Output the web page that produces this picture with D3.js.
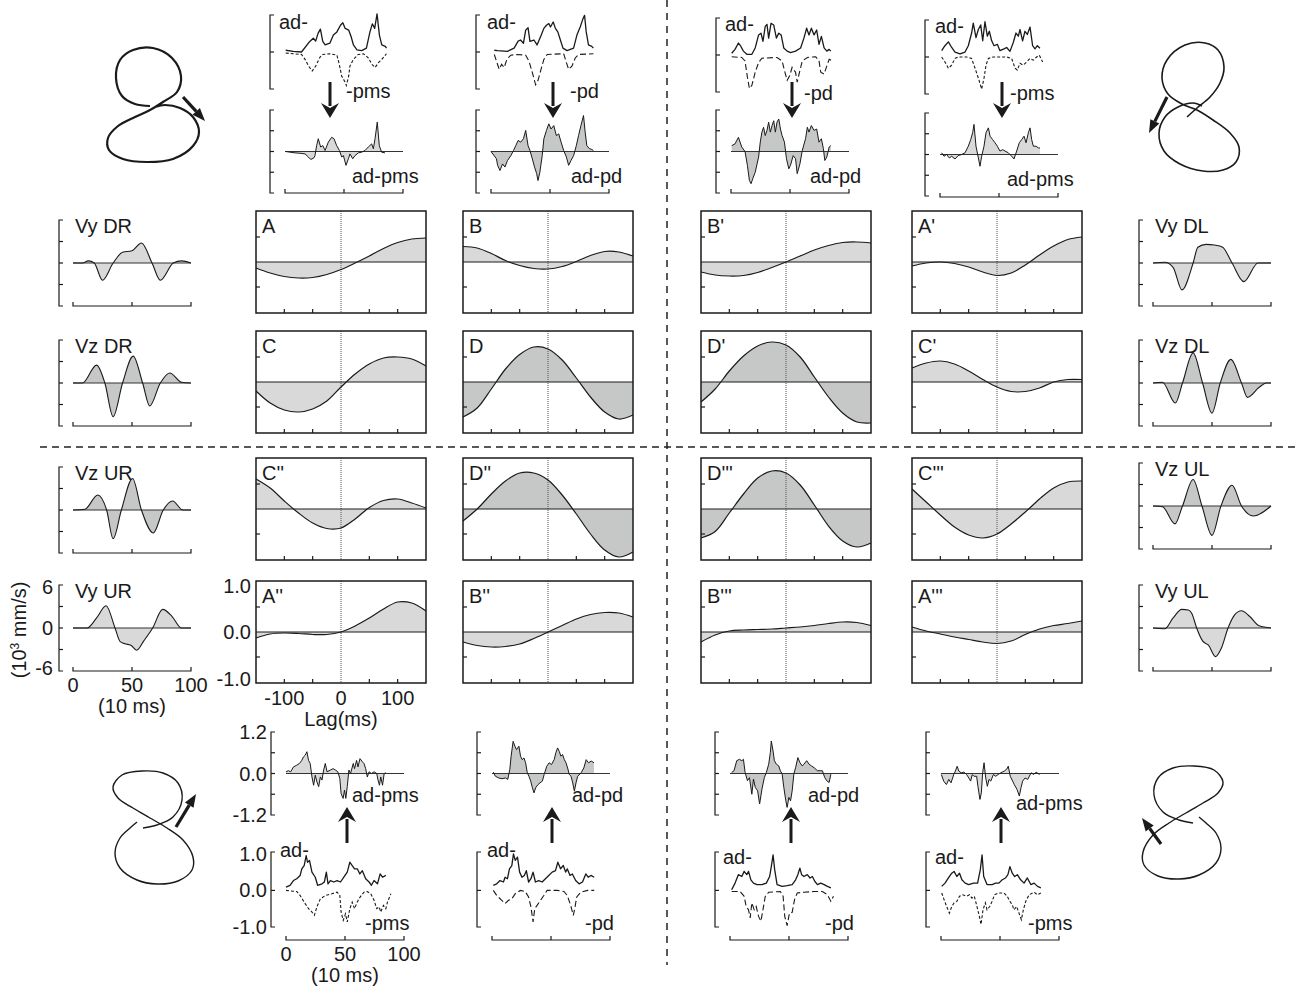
<!DOCTYPE html>
<html>
<head>
<meta charset="utf-8">
<script src="https://cdn.jsdelivr.net/npm/d3@7"></script>
<style>
body { margin: 0; background: #fff; }
svg text { font-family: "Liberation Sans", Arial, sans-serif; fill: #1a1a1a; }
</style>
</head>
<body>
<div id="fig"></div>
<script>
// ---------- data ----------
// cross-correlation lags (ms)
var lags = [-150, -125, -100, -75, -50, -25, 0, 25, 50, 75, 100, 125, 150];

var corrA  = [-0.12, -0.22, -0.29, -0.32, -0.31, -0.25, -0.15, -0.02, 0.12, 0.27, 0.39, 0.46, 0.48];
var corrB  = [0.31, 0.28, 0.17, 0.03, -0.07, -0.13, -0.14, -0.09, 0.01, 0.13, 0.21, 0.20, 0.12];
var corrB1 = [-0.20, -0.26, -0.28, -0.27, -0.21, -0.11, 0.0, 0.12, 0.24, 0.33, 0.39, 0.40, 0.38];
var corrA1 = [-0.08, -0.02, 0.0, -0.03, -0.10, -0.20, -0.27, -0.22, -0.06, 0.14, 0.32, 0.45, 0.50];
var corrC  = [-0.18, -0.42, -0.56, -0.60, -0.54, -0.38, -0.10, 0.16, 0.36, 0.48, 0.50, 0.46, 0.32];
var corrD  = [-0.70, -0.52, -0.14, 0.26, 0.55, 0.70, 0.66, 0.44, 0.08, -0.30, -0.60, -0.74, -0.66];
var corrD1 = [-0.40, -0.14, 0.22, 0.52, 0.72, 0.80, 0.74, 0.50, 0.10, -0.30, -0.62, -0.80, -0.82];
var corrC1 = [0.28, 0.38, 0.42, 0.36, 0.22, 0.05, -0.10, -0.19, -0.19, -0.12, 0.0, 0.05, 0.05];
var corrC2 = [0.60, 0.42, 0.16, -0.08, -0.28, -0.39, -0.38, -0.20, 0.03, 0.17, 0.20, 0.12, 0.02];
var corrD2 = [-0.24, 0.0, 0.30, 0.56, 0.72, 0.72, 0.58, 0.28, -0.10, -0.50, -0.82, -0.96, -0.86];
var corrD3 = [-0.58, -0.45, -0.08, 0.30, 0.62, 0.76, 0.72, 0.48, 0.08, -0.34, -0.64, -0.76, -0.68];
var corrC3 = [0.40, 0.14, -0.12, -0.36, -0.52, -0.58, -0.50, -0.30, -0.06, 0.20, 0.42, 0.54, 0.56];
var corrA2 = [-0.12, -0.04, -0.02, -0.03, -0.05, -0.05, 0.0, 0.12, 0.28, 0.46, 0.60, 0.58, 0.42];
var corrB2 = [-0.20, -0.27, -0.30, -0.29, -0.24, -0.13, 0.0, 0.13, 0.26, 0.35, 0.39, 0.38, 0.30];
var corrB3 = [-0.20, -0.06, 0.02, 0.04, 0.05, 0.06, 0.08, 0.10, 0.13, 0.17, 0.20, 0.19, 0.13];
var corrA3 = [0.10, 0.02, -0.04, -0.10, -0.15, -0.20, -0.23, -0.18, -0.05, 0.06, 0.13, 0.17, 0.22];

// hand velocity profiles [time (10 ms), velocity (10^3 mm/s)]
var vyDR = [[0,0],[8,0],[13,0.3],[18,0],[25,-2.4],[34,0],[42,1.5],[50,1.7],[58,2.8],[67,0],[74,-2.4],[85,0],[92,0.3],[100,0]];
var vzDR = [[0,0],[8,0],[20,2.5],[27,0],[34,-4.7],[42,0],[51,3.75],[59,0],[65,-3.2],[74,0],[82,1.4],[92,0.1],[100,0]];
var vyDL = [[0,0],[10,0.1],[17,-0.6],[24.6,-3.75],[34,0],[38,2.2],[45,2.6],[52,2.5],[59,2.2],[67,0],[77,-2.6],[89,0],[100,0]];
var vzDL = [[0,0],[8,0.1],[19,-2.8],[25,0],[34,4.2],[42,0],[50,-4.2],[57,0],[66,3.3],[75,0],[80,-2.0],[90,-0.6],[96,0],[100,0]];
var vzUR = [[0,0],[10,0.1],[21,2.1],[28.5,0],[34,-4.0],[41,0],[50.5,4.4],[58,0],[68,-3.2],[76.5,0],[84.5,1.25],[93,0],[100,0]];
var vyUR = [[0,0],[12,0],[20,1.4],[28,3.1],[35.6,0],[40,-1.9],[44,-2.2],[49,-2.4],[54,-3.1],[60,-1.8],[67.5,0],[76,2.6],[84,1.6],[92,0],[100,0]];
var vzUL = [[0,0],[8,-0.1],[18.6,-2.5],[25,0],[34,3.7],[41.5,0],[50,-4.1],[57.6,0],[67,2.9],[75,0],[85,-1.4],[100,0]];
var vyUL = [[0,0],[10,-0.1],[17,1.4],[24.5,2.6],[30,2.5],[33,2.0],[37,0],[42,-1.8],[47,-2.4],[53,-4.0],[58,-2.8],[63.6,0],[69,1.8],[75,2.4],[82,1.6],[90,0.3],[100,0]];

var velTickLabels = ["6", "0", "-6"];
var timeTickLabels = ["0", "50", "100"];
var corrTickLabels = ["1.0", "0.0", "-1.0"];
var lagTickLabels = ["-100", "0", "100"];

// EMG traces [time (10 ms), normalized activity]
var top1Ad = [[0.6,0.05],[7,0.02],[14,0],[21,0.3],[24,0.39],[26,0.31],[28,0.53],[30,0.65],[32,0.3],[34,0.2],[38,0.25],[41,0.48],[44,0.57],[47,0.76],[49,0.83],[51,0.67],[54,0.62],[56,0.44],[58,0.2],[61,0.06],[65,0.04],[69,0.11],[72,0.57],[74,0.8],[76,0.67],[78,1.08],[80,0.48],[82,0.2],[85,0.16],[86,0.11]];
var top1Neg = [[0.6,-0.03],[7,-0.05],[14,-0.07],[17,-0.21],[20,-0.4],[23,-0.54],[26,-0.4],[29.6,-0.15],[32,-0.07],[38,-0.05],[44,-0.09],[46,-0.35],[48,-0.68],[51,-0.86],[52,-0.95],[54,-0.68],[55,-0.4],[58,-0.21],[62,-0.07],[66.5,-0.05],[70.7,-0.17],[73.6,-0.35],[76.4,-0.44],[79,-0.31],[82,-0.21],[86,-0.05]];
var top1Diff = [[0.6,0],[4.3,-0.02],[8.5,-0.04],[12.7,-0.05],[17,-0.07],[19.8,-0.16],[21.8,-0.23],[24.3,-0.19],[25.4,-0.12],[26.8,0.17],[28.2,0.37],[30.2,0.13],[32,0.17],[34,0.03],[36.7,0.27],[39.5,0.41],[41.5,0.37],[43.8,0.17],[46.1,0.03],[48.1,-0.16],[49.5,-0.12],[51.7,-0.4],[53.7,-0.21],[55.1,-0.07],[57.4,-0.21],[59.3,-0.12],[62.1,-0.04],[65,-0.02],[67.8,0.03],[70.6,0.13],[73.4,0.22],[74.9,0.08],[76.3,0.37],[78.2,0.85],[79.9,0.17],[81.9,-0.02],[84.7,-0.04]];

var top2Ad = [[2.8,0.05],[5.6,0.04],[14,0.02],[19.6,0.11],[23,0.31],[25,0.34],[27.5,0.25],[29.4,0.62],[31.4,0.69],[33,0.3],[36.4,0.34],[39,0.2],[42.6,0.48],[44.8,0.67],[47,0.76],[49,0.81],[50.4,0.71],[52.7,0.85],[54.6,0.67],[56.6,0.57],[58.8,0.34],[61,0.11],[64.4,0.04],[70,0.11],[72.8,0.48],[75.6,0.71],[77.9,0.94],[79.3,1.04],[80.7,0.57],[82.6,0.2],[85.4,0.16],[86.8,0.11]];
var top2Neg = [[2.8,-0.07],[5,-0.3],[7,-0.49],[9,-0.35],[11.2,-0.44],[13.4,-0.21],[16.8,-0.09],[22.4,-0.07],[29.4,-0.09],[32.2,-0.26],[35,-0.58],[37.8,-0.93],[39.8,-0.81],[42,-0.54],[44.8,-0.21],[47.6,-0.07],[61.6,-0.05],[63.9,-0.3],[65.8,-0.49],[68.6,-0.4],[71.4,-0.17],[74.2,-0.07],[86.8,-0.05]];
var top2Diff = [[0,0],[4.6,-0.21],[5.6,-0.4],[7.6,-0.55],[9.8,-0.36],[11.8,-0.45],[14,-0.26],[16.8,-0.12],[19.1,0.03],[21,0.17],[23,0.32],[25.2,0.27],[27.5,0.37],[29.4,0.61],[31.4,0.17],[33,0.03],[35,-0.21],[36.9,-0.45],[38.7,-0.64],[39.8,-0.84],[41.4,-0.6],[43.4,-0.12],[44.8,0.37],[47,0.61],[49,0.8],[50.9,0.65],[53.2,0.75],[55.4,0.46],[57.4,0.51],[59.4,0.27],[61.6,0.03],[63.9,-0.16],[65.8,-0.4],[67.8,-0.26],[70,-0.12],[72.3,0.17],[74.2,0.46],[76.2,0.75],[78.4,1.04],[79.8,0.56],[81.2,0.17],[83.5,0.08],[85.4,0.06],[86.8,0.03]];

var top3Ad = [[0.6,0.05],[3.4,0.16],[6.3,0.34],[8.3,0.25],[10.5,0.11],[13.4,0.02],[17.7,0.02],[20.5,0.2],[23.4,0.57],[25.4,0.62],[27.1,0.39],[29,0.81],[30.5,0.87],[31.9,0.48],[33.9,0.9],[36.2,0.85],[38.5,0.48],[40.5,0.62],[42.5,0.57],[44.7,0.2],[47.6,0.11],[50.4,0.07],[54.7,0.11],[59,0.2],[61.8,0.48],[64.1,0.76],[66.1,0.57],[68.1,0.76],[70.4,0.57],[72.6,0.71],[74.6,0.3],[76.6,0.53],[78.9,0.2],[81.2,0.11],[83.2,0.16],[84.6,0.11]];
var top3Neg = [[0.6,-0.05],[9.1,-0.07],[11.9,-0.17],[13.9,-0.63],[15.6,-0.95],[17.7,-0.86],[20.5,-0.49],[23.4,-0.21],[26.2,-0.09],[39,-0.07],[43.3,-0.17],[45.3,-0.44],[47.6,-0.72],[49.8,-0.58],[51.8,-0.35],[54.7,-0.49],[56.1,-0.77],[58.4,-0.44],[60.4,-0.17],[64.7,-0.07],[71.8,-0.05],[74.6,-0.17],[76.1,-0.49],[78.9,-0.54],[81.2,-0.31],[83.2,-0.12],[86,-0.17]];
var top3Diff = [[0.6,0.17],[3.4,0.22],[6.3,0.41],[9.1,0.13],[11.9,0],[13.9,-0.4],[15.6,-0.84],[17,-0.93],[18.4,-0.79],[20.5,-0.6],[23.4,-0.16],[24.8,0.27],[26.2,0.56],[27.6,0.7],[29,0.46],[30.5,0.61],[31.9,0.85],[33.3,0.56],[34.8,0.75],[36.2,0.89],[37.6,0.56],[39,0.85],[40.5,0.94],[41.9,0.65],[43.3,0.46],[45.3,0.27],[47,-0.21],[49,-0.5],[50.4,-0.4],[52.7,-0.12],[54.7,-0.21],[56.1,-0.64],[58.4,-0.36],[60.4,0.03],[63.2,0.37],[64.7,0.7],[66.1,0.56],[68.1,0.75],[70.4,0.61],[72.6,0.65],[74.6,0.27],[76.6,0.37],[78.3,0.08],[79.5,-0.26],[81.2,-0.16],[83.2,0.13],[84.6,0.17]];

var top4Ad = [[1.4,0.18],[4.2,0.32],[7.1,0.43],[9.9,0.27],[12.7,0.14],[16.9,0.09],[21.2,0.14],[24,0.32],[26.8,0.68],[28.2,0.96],[30.5,0.55],[32.5,0.78],[34.5,0.91],[36.2,0.46],[38.1,1.0],[40.1,0.59],[41.8,0.73],[43.8,0.46],[45.8,0.32],[48.6,0.36],[50.8,0.18],[54.2,0.23],[56.5,0.27],[59.3,0.16],[62.1,0.41],[64.4,0.68],[66.4,0.59],[67.8,0.78],[70,0.46],[72,0.73],[74,0.64],[76.3,0.85],[78.5,0.32],[80.5,0.23],[82.5,0.32],[84.7,0.25]];
var top4Neg = [[1.4,0],[4.2,-0.14],[7.1,-0.32],[9.9,-0.23],[12.7,-0.04],[15.5,0],[22.6,0],[26.8,-0.04],[29.7,-0.32],[32.5,-0.6],[35.3,-0.91],[37.3,-0.6],[39,-0.23],[41,-0.04],[45.2,0],[56.5,0],[60.7,-0.04],[63.6,-0.32],[65.5,-0.37],[67.8,-0.18],[70.6,-0.23],[73.5,-0.14],[76.3,-0.04],[79.1,-0.09],[81.9,0],[84.2,0.05],[87,-0.14]];
var top4Diff = [[1.4,0.05],[3.4,-0.05],[5.6,0],[7.9,-0.1],[9.9,-0.05],[12.7,-0.13],[15.5,-0.03],[18.4,0],[21.2,0.05],[24,0.24],[26,0.43],[27.7,0.63],[28.8,0.87],[30.5,0.24],[32.5,-0.1],[33.9,-0.34],[35.3,-0.05],[37.3,0.24],[39,0.63],[41,0.77],[42.4,0.53],[44.6,0.43],[46.6,0.34],[48.6,0.24],[50.8,0.1],[53.1,0.14],[55.1,0.1],[57.9,0.05],[60.7,-0.05],[62.7,-0.13],[65,0.1],[67.2,0.34],[69.2,0.43],[71.2,0.53],[72.9,0.34],[74.9,0.63],[76.3,0.77],[77.7,0.43],[79.1,0.24],[81.4,0.24],[83.3,0.19],[84.7,0.19]];

var bot1Ad = [[0,0.09],[3.4,0.14],[6.3,0.27],[9.1,0.32],[12,0.41],[13.4,0.59],[15.4,0.68],[17.1,0.95],[18.2,0.77],[19.9,0.82],[22,0.5],[24.8,0.36],[26.8,0.14],[30.5,0.18],[32.5,0.23],[34.2,0.5],[35.6,0.18],[37.6,0.27],[40.5,0.23],[43.3,0.27],[46.2,0.23],[49,0.36],[51.9,0.5],[54.1,0.77],[56.1,0.68],[58.1,0.59],[60.4,0.59],[62.6,0.45],[64.7,0.54],[67.5,0.32],[70.4,0.23],[72.4,0.14],[74.6,0.27],[77.5,0.18],[79.8,0.45],[81.8,0.36],[84.6,0.41]];
var bot1Neg = [[0,0],[9.1,-0.03],[12,-0.14],[15.4,-0.32],[19.1,-0.5],[22,-0.59],[24,-0.68],[26.2,-0.45],[29.1,-0.23],[33.3,-0.14],[39,-0.09],[43.3,-0.05],[45.6,-0.14],[46.7,-0.59],[48.5,-0.82],[50.4,-0.64],[51.9,-0.86],[54.1,-0.5],[56.1,-0.32],[58.1,-0.5],[59.8,-0.36],[61.8,-0.23],[63.8,-0.14],[66.1,-0.05],[68.9,-0.03],[71.8,-0.09],[74.6,-0.27],[76.9,-0.5],[78.9,-0.45],[80.3,-0.59],[82.6,-0.41],[84.6,-0.5],[86,-0.32],[88.9,-0.09]];
var bot1Diff = [[0,0.05],[2,0.08],[4,0.05],[6.3,0.19],[9.1,0.24],[11.4,0.29],[13.4,0.38],[14.8,0.48],[16.3,0.53],[17.7,0.63],[19.1,0.38],[20.5,0.29],[22,-0.1],[23.4,-0.34],[24.8,-0.05],[26.2,-0.24],[27.7,-0.38],[29.1,-0.1],[30.5,-0.19],[31.9,0.1],[33.3,0.29],[34.8,0.05],[37.6,0.1],[39.9,0.14],[41.9,0.1],[43.9,0.05],[45.6,-0.14],[46.7,-0.58],[48.4,-0.72],[49.6,-0.48],[50.7,-0.72],[51.9,-0.38],[53.3,0.1],[54.7,0],[57,0.29],[58.1,0.14],[59.8,0.38],[61,0.19],[62.7,0.43],[64.7,0.34],[66.1,0.29],[67.5,0.14],[68.9,-0.1],[70.4,0.05],[72.4,0],[74.6,0.05],[76.9,0],[78,-0.19],[79.2,-0.34],[80.3,-0.1],[81.8,-0.34],[83.2,0],[84.6,0.02]];

var bot2Ad = [[1.1,0.14],[4,0.18],[6.8,0.27],[9.7,0.23],[11.1,0.36],[13.1,0.32],[14.8,0.59],[16.8,0.68],[18.2,1.0],[19.7,0.82],[21.6,0.91],[23.4,0.5],[25.4,0.36],[27.4,0.41],[29.1,0.54],[31,0.23],[33,0.32],[34.8,0.5],[36.8,0.23],[39.6,0.27],[42.5,0.23],[45.3,0.32],[48.1,0.41],[51,0.5],[53.8,0.54],[55.8,0.77],[58.1,0.59],[60.4,0.68],[62.4,0.5],[63.8,0.59],[66.1,0.41],[68.1,0.45],[70.9,0.27],[73.8,0.18],[76.7,0.23],[79.5,0.45],[81.5,0.36],[83.8,0.41],[86.6,0.36]];
var bot2Neg = [[1.1,0],[4,-0.14],[8.3,-0.27],[11.1,-0.36],[14,-0.27],[16.8,-0.23],[19.7,-0.09],[24,0],[28.2,-0.03],[31,-0.18],[33,-0.45],[34.8,-0.86],[36.2,-0.5],[38.2,-0.41],[41.1,-0.27],[43.9,-0.14],[46.7,0],[55.3,0],[61,-0.03],[63.8,-0.14],[66.7,-0.41],[68.9,-0.68],[70.1,-0.5],[71.8,-0.18],[75.2,-0.05],[80.9,0],[86.6,0]];
var bot2Diff = [[1.1,0.04],[2.9,-0.08],[5.7,-0.13],[8.5,-0.15],[11.4,-0.13],[13.4,-0.17],[15.1,0.12],[16.2,0.5],[17.9,0.93],[19.4,0.79],[20.8,0.69],[22.8,0.79],[24.2,0.5],[25.6,0.4],[27.1,0.45],[28.5,0.31],[29.9,0.02],[31.3,-0.08],[32.8,-0.22],[34.2,-0.41],[35.6,-0.56],[37,-0.41],[39,-0.32],[40.7,-0.27],[42.7,-0.22],[44.2,-0.03],[46.4,0.21],[48.4,0.31],[50.4,0.26],[52.7,0.4],[54.1,0.6],[55.6,0.74],[57,0.64],[58.4,0.5],[59.8,0.55],[61.3,0.4],[62.7,0.31],[64.1,0.16],[65.5,-0.03],[67,-0.08],[68.4,-0.27],[69.8,-0.51],[71.2,-0.27],[72.6,-0.08],[75.5,0.02],[77.8,0.16],[79.8,0.4],[81.8,0.31],[84.1,0.36],[86.4,0.31]];

var bot3Ad = [[1.4,0.02],[4.3,0.2],[7.1,0.43],[10,0.38],[12,0.52],[14.2,0.43],[15.7,0.52],[17.7,0.29],[19.9,0.2],[22.8,0.16],[27.1,0.16],[30.8,0.2],[33.6,0.38],[35,0.65],[36.5,0.97],[37.9,0.56],[39.9,0.16],[44.2,0.11],[48.5,0.13],[52.7,0.16],[55.6,0.29],[57.5,0.43],[59.2,0.61],[60.7,0.43],[62.7,0.38],[65.5,0.43],[67.8,0.34],[69.8,0.38],[71.8,0.25],[74.1,0.16],[76.9,0.2],[79.8,0.16],[82.6,0.11],[85.5,0.07]];
var bot3Neg = [[1.4,-0.03],[8.5,-0.03],[12,-0.16],[13.7,-0.44],[15.7,-0.53],[17.1,-0.75],[18.5,-0.34],[20.5,-0.53],[22.2,-0.44],[24.2,-0.71],[26.2,-0.84],[27.9,-0.53],[29.9,-0.16],[32.8,-0.05],[42.7,-0.03],[45,-0.16],[46.4,-0.71],[48.4,-0.96],[50.4,-0.62],[52.7,-0.6],[54.7,-0.25],[57,-0.07],[62.7,-0.05],[71.2,-0.03],[78.3,-0.03],[82.6,-0.12],[85.5,-0.3],[87.7,-0.16]];
var bot3Diff = [[1.4,0.03],[3.4,0.08],[5.7,0.37],[8,0.41],[10,0.37],[11.4,0.41],[12.8,0.03],[14.8,-0.21],[16.5,-0.12],[18.5,-0.6],[19.9,-0.16],[21.4,-0.4],[23.4,-0.5],[25.1,-0.88],[27.1,-0.45],[29.1,-0.12],[30.8,0.03],[32.8,0.27],[34.2,0.61],[35,0.94],[36.5,0.65],[37.6,0.37],[39.3,0.27],[41.3,0.22],[42.7,0.08],[44.2,-0.02],[45.6,-0.4],[47.3,-0.79],[48.4,-0.98],[49.9,-0.69],[51.3,-0.79],[52.7,-0.5],[54.1,-0.02],[55.6,0.17],[57.5,0.46],[59.2,0.32],[61.2,0.22],[62.7,0.27],[65,0.37],[67,0.27],[69,0.22],[71.2,0.17],[74.1,0.08],[76.4,0.08],[78.3,0.08],[80.3,-0.12],[82,-0.21],[84,-0.26],[85.5,-0.02]];

var bot4Ad = [[0.6,0.11],[3.4,0.2],[6.3,0.34],[9.1,0.47],[11.1,0.52],[13.4,0.38],[15.7,0.47],[17.7,0.29],[20.5,0.2],[23.4,0.16],[27.6,0.2],[31,0.2],[33.3,0.56],[34.8,0.97],[36.2,0.38],[39,0.16],[43.3,0.16],[46.2,0.2],[49,0.2],[51.9,0.29],[54.7,0.34],[56.7,0.43],[58.4,0.65],[60.4,0.47],[62.4,0.38],[64.7,0.43],[67.5,0.29],[70.4,0.2],[73.2,0.34],[76.1,0.16],[78.9,0.2],[81.8,0.11],[84.6,0.07]];
var bot4Neg = [[0.6,-0.07],[2.6,-0.25],[4.8,-0.44],[7.1,-0.62],[9.1,-0.44],[11.1,-0.34],[13.4,-0.3],[15.7,-0.16],[18.5,-0.12],[21.4,-0.16],[24.2,-0.12],[26.2,-0.21],[28.2,-0.16],[30.5,-0.44],[32.8,-0.75],[33.9,-0.93],[35.6,-0.53],[37.6,-0.34],[39,-0.53],[41.3,-0.44],[43.3,-0.3],[45.3,-0.12],[49,-0.07],[53.3,-0.07],[56.1,-0.16],[58.4,-0.3],[60.4,-0.39],[61.8,-0.53],[64.1,-0.44],[66.1,-0.62],[68.1,-0.8],[69.8,-0.53],[71.8,-0.3],[74.6,-0.12],[78.9,-0.05],[81.8,-0.12],[84.6,-0.07]];
var bot4Diff = [[0.3,-0.03],[2.3,-0.22],[4.6,-0.32],[6.6,-0.17],[8.5,-0.27],[10.8,-0.03],[12.2,0.07],[13.7,0.21],[15.1,0.07],[17.1,0.02],[19.4,0.04],[21.7,-0.03],[23.6,-0.13],[25.1,-0.22],[26.5,-0.03],[27.9,-0.08],[30.2,-0.08],[31.3,-0.37],[33,-0.75],[34.2,-0.56],[35.3,0.02],[36.5,0.31],[37.9,-0.13],[39.3,-0.37],[40.7,-0.17],[42.2,-0.22],[44.4,-0.03],[46.4,-0.08],[48.4,-0.03],[50.7,0.02],[53.6,0.07],[55.8,0.13],[57,0.21],[58.7,-0.08],[60.7,-0.22],[62.1,-0.32],[64.4,-0.46],[66.4,-0.65],[67.8,-0.41],[69.2,-0.22],[71.2,-0.13],[73.5,-0.17],[76.4,0.02],[78.6,-0.03],[80.6,0.04],[83.5,-0.03]];

var rawTickLabels = ["1.0", "0.0", "-1.0"];
var diffTickLabels = ["1.2", "0.0", "-1.2"];

// figure-eight pen trajectories (px relative to drawing centre) and direction arrows
var trajDR = [[-5,1],[-20,-1],[-33,-9],[-39,-27],[-35,-45],[-22,-55],[-2,-57],[17,-47],[26,-29],[22,-13],[8,-3],[-5,5],[-20,12],[-37,21],[-47,33],[-46,45],[-32,54],[-8,57],[18,54],[38,41],[44,27],[38,12],[25,3],[10,0],[0,2]];
var arrowDR = [[28,-8],[50,16]];
var trajDL = [[-13,10],[-3,1],[10,-10],[20,-24],[24,-40],[18,-57],[5,-64],[-15,-62],[-33,-47],[-38,-29],[-32,-13],[-18,-3],[-3,3],[13,13],[30,26],[39,40],[36,55],[23,63],[3,64],[-20,57],[-36,44],[-41,26],[-35,10],[-22,0],[-7,-4],[2,-1]];
var arrowDL = [[-33,-10],[-51,26]];
var trajUR = [[-10,1],[4,-2],[20,-10],[29,-27],[25,-44],[10,-54],[-11,-56],[-31,-52],[-40,-40],[-35,-29],[-20,-19],[-3,-9],[14,1],[30,13],[40,30],[39,43],[25,54],[4,57],[-16,53],[-33,41],[-38,26],[-33,11],[-23,1],[-16,-5]];
var arrowUR = [[23,0],[43,-33]];
var trajUL = [[10,1],[-4,-2],[-20,-10],[-29,-27],[-25,-44],[-10,-54],[11,-56],[31,-52],[40,-40],[35,-29],[20,-19],[3,-9],[-14,1],[-30,13],[-40,30],[-39,43],[-25,54],[-4,57],[16,53],[33,41],[38,26],[33,11],[23,1],[16,-5]];
var arrowUL = [[-22,22],[-41,-4]];

// ---------- drawing ----------
var svg = d3.select("#fig").append("svg")
  .attr("width", 1295)
  .attr("height", 989);

var LIGHT = "#d9d9d9", DARK = "#c6c8c7", INK = "#1a1a1a";
var FONT = 20;

function text(g, x, y, s, anchor, size) {
  return g.append("text")
    .attr("x", x)
    .attr("y", y)
    .attr("text-anchor", anchor || "start")
    .attr("font-size", size || FONT)
    .text(s);
}

// "[" shaped axis with inward ticks
function bracket(g, bx, ys, top, bottom, ticks) {
  g.append("path")
    .attr("d", "M" + (bx + 4) + "," + ys(top) + "H" + bx + "V" + ys(bottom) + "H" + (bx + 4))
    .attr("fill", "none").attr("stroke", INK).attr("stroke-width", 1.2);
  ticks.forEach(function(v) {
    g.append("line")
      .attr("x1", bx).attr("x2", bx + 4)
      .attr("y1", ys(v)).attr("y2", ys(v))
      .attr("stroke", INK).attr("stroke-width", 1.2);
  });
}

function timeAxis(g, xs, y) {
  g.append("path")
    .attr("d", "M" + xs(0) + "," + (y - 4) + "V" + y + "H" + xs(100) + "V" + (y - 4) + "M" + xs(50) + "," + y + "V" + (y - 4))
    .attr("fill", "none").attr("stroke", INK).attr("stroke-width", 1.2);
}

function velPanel(o) {
  var g = svg.append("g");
  var x = d3.scaleLinear().domain([0, 100]).range([o.x0, o.x0 + 118]);
  var y = d3.scaleLinear().domain([-6, 6]).range([o.y0 + 86, o.y0]);
  var area = d3.area().x(d => x(d[0])).y0(y(0)).y1(d => y(d[1])).curve(d3.curveMonotoneX);
  var line = d3.line().x(d => x(d[0])).y(d => y(d[1])).curve(d3.curveMonotoneX);

  g.append("path").attr("d", area(o.data)).attr("fill", o.fill);
  g.append("line")
    .attr("x1", x(0)).attr("x2", x(100))
    .attr("y1", y(0)).attr("y2", y(0))
    .attr("stroke", "#333").attr("stroke-width", 1);
  g.append("path").attr("d", line(o.data))
    .attr("fill", "none").attr("stroke", INK).attr("stroke-width", 1.1);

  bracket(g, o.x0 - 14, y, 6, -6, [-3, 0, 3]);
  timeAxis(g, x, y(-6));
  text(g, o.x0 + 2, o.y0 + 13, o.label);

  if (o.labels) {
    [6, 0, -6].forEach(function(v, i) {
      text(g, o.x0 - 20, y(v) + 7 - (v > 0 ? -2 : v < 0 ? 3 : 0), velTickLabels[i], "end");
    });
    [0, 50, 100].forEach(function(v, i) {
      text(g, x(v), y(-6) + 21, timeTickLabels[i], "middle");
    });
    text(g, x(50), y(-6) + 42, "(10 ms)", "middle");
  }
}

function corrPanel(o) {
  var g = svg.append("g");
  var x = d3.scaleLinear().domain([-150, 150]).range([o.x, o.x + 170]);
  var y = d3.scaleLinear().domain([-1.02, 1.02]).range([o.y + 102, o.y]);
  var pts = lags.map((l, i) => [l, o.vals[i]]);
  var curve = d3.curveCatmullRom.alpha(0.5);

  g.append("path")
    .attr("d", d3.area().x(d => x(d[0])).y0(y(0)).y1(d => y(d[1])).curve(curve)(pts))
    .attr("fill", o.fill);
  g.append("line")
    .attr("x1", x(0)).attr("x2", x(0))
    .attr("y1", o.y).attr("y2", o.y + 102)
    .attr("stroke", "#555").attr("stroke-width", 1).attr("stroke-dasharray", "1,1");
  g.append("line")
    .attr("x1", o.x).attr("x2", o.x + 170)
    .attr("y1", y(0)).attr("y2", y(0))
    .attr("stroke", INK).attr("stroke-width", 1);
  g.append("path")
    .attr("d", d3.line().x(d => x(d[0])).y(d => y(d[1])).curve(curve)(pts))
    .attr("fill", "none").attr("stroke", INK).attr("stroke-width", 1.2);
  g.append("rect")
    .attr("x", o.x).attr("y", o.y).attr("width", 170).attr("height", 102)
    .attr("fill", "none").attr("stroke", INK).attr("stroke-width", 1.5);
  [-0.5, 0.5].forEach(function(v) {
    g.append("line").attr("x1", o.x).attr("x2", o.x + 4)
      .attr("y1", y(v)).attr("y2", y(v)).attr("stroke", INK).attr("stroke-width", 1.2);
  });
  [-100, -50, 50, 100].forEach(function(v) {
    g.append("line").attr("x1", x(v)).attr("x2", x(v))
      .attr("y1", o.y + 102).attr("y2", o.y + 98).attr("stroke", INK).attr("stroke-width", 1.2);
  });
  text(g, o.x + 6, o.y + 22, o.label, "start", 20);

  if (o.labels) {
    [1, 0, -1].forEach(function(v, i) {
      text(g, o.x - 5, y(v) + 7 + (v > 0 ? 4 : v < 0 ? -3 : 0), corrTickLabels[i], "end");
    });
    [-100, 0, 100].forEach(function(v, i) {
      text(g, x(v), o.y + 124, lagTickLabels[i], "middle");
    });
    text(g, x(0), o.y + 145, "Lag(ms)", "middle");
  }
}

function emgColumn(o) {
  var g = svg.append("g");
  var x = d3.scaleLinear().domain([0, 100]).range([o.x0, o.x0 + 118]);
  var yr = d3.scaleLinear().domain(o.rawDomain).range([o.rawY + o.rawH, o.rawY]);
  var yd = d3.scaleLinear().domain([-1.2, 1.2]).range([o.diffY + 83, o.diffY]);
  var bx = o.x0 - 15;

  // raw traces
  var lr = d3.line().x(d => x(d[0])).y(d => yr(d[1]));
  g.append("path").attr("d", lr(o.ad))
    .attr("fill", "none").attr("stroke", INK).attr("stroke-width", 1.3).attr("stroke-linejoin", "round");
  g.append("path").attr("d", lr(o.neg))
    .attr("fill", "none").attr("stroke", INK).attr("stroke-width", 1.1)
    .attr("stroke-dasharray", o.dash);
  bracket(g, bx, yr, o.rawDomain[1], o.rawDomain[0], [0]);

  // difference trace
  g.append("path")
    .attr("d", d3.area().x(d => x(d[0])).y0(yd(0)).y1(d => yd(d[1]))(o.diff))
    .attr("fill", o.fill);
  g.append("line")
    .attr("x1", x(0)).attr("x2", x(100)).attr("y1", yd(0)).attr("y2", yd(0))
    .attr("stroke", "#333").attr("stroke-width", 1);
  g.append("path")
    .attr("d", d3.line().x(d => x(d[0])).y(d => yd(d[1]))(o.diff))
    .attr("fill", "none").attr("stroke", INK).attr("stroke-width", 1).attr("stroke-linejoin", "round");
  bracket(g, bx, yd, 1.2, -1.2, [-0.6, 0, 0.6]);

  timeAxis(g, x, o.axisY);

  // arrow between raw and difference
  var a = o.arrow;
  var dir = a[1] > a[0] ? 1 : -1;
  g.append("line")
    .attr("x1", a[2]).attr("x2", a[2])
    .attr("y1", a[0]).attr("y2", a[1] - dir * 12)
    .attr("stroke", INK).attr("stroke-width", 3);
  g.append("path")
    .attr("d", "M" + (a[2] - 9) + "," + (a[1] - dir * 15) + "L" + a[2] + "," + a[1] + "L" + (a[2] + 9) + "," + (a[1] - dir * 15) + "L" + a[2] + "," + (a[1] - dir * 10) + "Z")
    .attr("fill", INK);

  o.texts.forEach(function(t) { text(g, t[0], t[1], t[2], t[3]); });

  if (o.labels) {
    [1, 0, -1].forEach(function(v, i) {
      text(g, bx - 4, yr(v) + 7, rawTickLabels[i], "end");
    });
    [1.2, 0, -1.2].forEach(function(v, i) {
      text(g, bx - 4, yd(v) + 7, diffTickLabels[i], "end");
    });
    [0, 50, 100].forEach(function(v, i) {
      text(g, x(v), o.axisY + 21, timeTickLabels[i], "middle");
    });
    text(g, x(50), o.axisY + 42, "(10 ms)", "middle");
  }
}

function figure8(traj, arrow, cx, cy, width) {
  var g = svg.append("g");
  var x = d3.scaleLinear().domain([-60, 60]).range([cx - 60, cx + 60]);
  var y = d3.scaleLinear().domain([-60, 60]).range([cy - 60, cy + 60]);
  g.append("path")
    .attr("d", d3.line().x(d => x(d[0])).y(d => y(d[1])).curve(d3.curveCatmullRom.alpha(0.5))(traj))
    .attr("fill", "none").attr("stroke", INK).attr("stroke-width", width);
  var x1 = x(arrow[0][0]), y1 = y(arrow[0][1]), x2 = x(arrow[1][0]), y2 = y(arrow[1][1]);
  var len = Math.hypot(x2 - x1, y2 - y1), ux = (x2 - x1) / len, uy = (y2 - y1) / len;
  var hx = x2 - ux * 13, hy = y2 - uy * 13;
  g.append("line").attr("x1", x1).attr("y1", y1).attr("x2", hx).attr("y2", hy)
    .attr("stroke", INK).attr("stroke-width", 3.2);
  g.append("path")
    .attr("d", "M" + x2 + "," + y2 + "L" + (hx - uy * 5) + "," + (hy + ux * 5) + "L" + (hx + uy * 5) + "," + (hy - ux * 5) + "Z")
    .attr("fill", INK);
}

// separators
svg.append("line").attr("x1", 667).attr("x2", 667).attr("y1", 0).attr("y2", 965)
  .attr("stroke", "#222").attr("stroke-width", 1.5).attr("stroke-dasharray", "7,6");
svg.append("line").attr("x1", 40).attr("x2", 1295).attr("y1", 447).attr("y2", 447)
  .attr("stroke", "#222").attr("stroke-width", 1.5).attr("stroke-dasharray", "7,5");

// velocity panels
velPanel({ x0: 73, y0: 220, data: vyDR, fill: LIGHT, label: "Vy DR" });
velPanel({ x0: 73, y0: 340, data: vzDR, fill: DARK, label: "Vz DR" });
velPanel({ x0: 73, y0: 467, data: vzUR, fill: DARK, label: "Vz UR" });
velPanel({ x0: 73, y0: 585, data: vyUR, fill: LIGHT, label: "Vy UR", labels: true });
velPanel({ x0: 1153, y0: 220, data: vyDL, fill: LIGHT, label: "Vy DL" });
velPanel({ x0: 1153, y0: 340, data: vzDL, fill: DARK, label: "Vz DL" });
velPanel({ x0: 1153, y0: 463, data: vzUL, fill: DARK, label: "Vz UL" });
velPanel({ x0: 1153, y0: 585, data: vyUL, fill: LIGHT, label: "Vy UL" });

// rotated velocity unit label
var unit = svg.append("text")
  .attr("transform", "translate(26,630) rotate(-90)")
  .attr("text-anchor", "middle")
  .attr("font-size", FONT);
unit.append("tspan").text("(10");
unit.append("tspan").attr("dy", -7).attr("font-size", 12).text("3");
unit.append("tspan").attr("dy", 7).text(" mm/s)");

// cross-correlation panels
var colX = [256, 463, 701, 912];
var rowY = [211, 331, 458, 581];
corrPanel({ x: colX[0], y: rowY[0], vals: corrA,  fill: LIGHT, label: "A" });
corrPanel({ x: colX[1], y: rowY[0], vals: corrB,  fill: LIGHT, label: "B" });
corrPanel({ x: colX[2], y: rowY[0], vals: corrB1, fill: LIGHT, label: "B'" });
corrPanel({ x: colX[3], y: rowY[0], vals: corrA1, fill: LIGHT, label: "A'" });
corrPanel({ x: colX[0], y: rowY[1], vals: corrC,  fill: LIGHT, label: "C" });
corrPanel({ x: colX[1], y: rowY[1], vals: corrD,  fill: DARK,  label: "D" });
corrPanel({ x: colX[2], y: rowY[1], vals: corrD1, fill: DARK,  label: "D'" });
corrPanel({ x: colX[3], y: rowY[1], vals: corrC1, fill: LIGHT, label: "C'" });
corrPanel({ x: colX[0], y: rowY[2], vals: corrC2, fill: LIGHT, label: "C''" });
corrPanel({ x: colX[1], y: rowY[2], vals: corrD2, fill: DARK,  label: "D''" });
corrPanel({ x: colX[2], y: rowY[2], vals: corrD3, fill: DARK,  label: "D'''" });
corrPanel({ x: colX[3], y: rowY[2], vals: corrC3, fill: LIGHT, label: "C'''" });
corrPanel({ x: colX[0], y: rowY[3], vals: corrA2, fill: LIGHT, label: "A''", labels: true });
corrPanel({ x: colX[1], y: rowY[3], vals: corrB2, fill: LIGHT, label: "B''" });
corrPanel({ x: colX[2], y: rowY[3], vals: corrB3, fill: LIGHT, label: "B'''" });
corrPanel({ x: colX[3], y: rowY[3], vals: corrA3, fill: LIGHT, label: "A'''" });

// EMG columns, top (down-going) and bottom (up-going)
var PMS = "3,2", PD = "6,3";
emgColumn({ x0: 285, rawY: 15, rawH: 74, rawDomain: [-1.05, 1.05], diffY: 110, axisY: 193,
  ad: top1Ad, neg: top1Neg, diff: top1Diff, dash: PMS, fill: LIGHT, arrow: [82, 118, 330],
  texts: [[279, 29, "ad-"], [346, 98, "-pms"], [352, 183, "ad-pms"]] });
emgColumn({ x0: 491, rawY: 15, rawH: 74, rawDomain: [-1.05, 1.05], diffY: 110, axisY: 193,
  ad: top2Ad, neg: top2Neg, diff: top2Diff, dash: PD, fill: DARK, arrow: [82, 118, 553],
  texts: [[487, 29, "ad-"], [570, 98, "-pd"], [571, 183, "ad-pd"]] });
emgColumn({ x0: 731, rawY: 18, rawH: 74, rawDomain: [-1.05, 1.05], diffY: 110, axisY: 193,
  ad: top3Ad, neg: top3Neg, diff: top3Diff, dash: PD, fill: DARK, arrow: [82, 118, 792],
  texts: [[725, 31, "ad-"], [804, 100, "-pd"], [810, 183, "ad-pd"]] });
emgColumn({ x0: 940, rawY: 20, rawH: 74, rawDomain: [-1.05, 1.05], diffY: 113, axisY: 197,
  ad: top4Ad, neg: top4Neg, diff: top4Diff, dash: PMS, fill: LIGHT, arrow: [82, 118, 1002],
  texts: [[935, 33, "ad-"], [1010, 100, "-pms"], [1007, 186, "ad-pms"]] });

emgColumn({ x0: 286, rawY: 852, rawH: 75, rawDomain: [-1.0, 1.05], diffY: 732, axisY: 940,
  ad: bot1Ad, neg: bot1Neg, diff: bot1Diff, dash: PMS, fill: LIGHT, arrow: [843, 807, 347],
  texts: [[280, 857, "ad-"], [365, 930, "-pms"], [352, 802, "ad-pms"]], labels: true });
emgColumn({ x0: 492, rawY: 852, rawH: 75, rawDomain: [-1.0, 1.05], diffY: 732, axisY: 940,
  ad: bot2Ad, neg: bot2Neg, diff: bot2Diff, dash: PD, fill: DARK, arrow: [843, 807, 552],
  texts: [[487, 857, "ad-"], [585, 930, "-pd"], [572, 802, "ad-pd"]] });
emgColumn({ x0: 730, rawY: 852, rawH: 75, rawDomain: [-1.0, 1.05], diffY: 732, axisY: 940,
  ad: bot3Ad, neg: bot3Neg, diff: bot3Diff, dash: PD, fill: DARK, arrow: [843, 807, 791],
  texts: [[723, 864, "ad-"], [825, 930, "-pd"], [808, 802, "ad-pd"]] });
emgColumn({ x0: 941, rawY: 852, rawH: 75, rawDomain: [-1.0, 1.05], diffY: 732, axisY: 940,
  ad: bot4Ad, neg: bot4Neg, diff: bot4Diff, dash: PMS, fill: LIGHT, arrow: [843, 807, 1001],
  texts: [[935, 864, "ad-"], [1028, 930, "-pms"], [1016, 810, "ad-pms"]] });

// figure-eight drawings
figure8(trajDR, arrowDR, 155, 105, 2.2);
figure8(trajDL, arrowDL, 1200, 107, 1.6);
figure8(trajUR, arrowUR, 153, 827, 1.4);
figure8(trajUL, arrowUL, 1183, 822, 1.4);
</script>
</body>
</html>
